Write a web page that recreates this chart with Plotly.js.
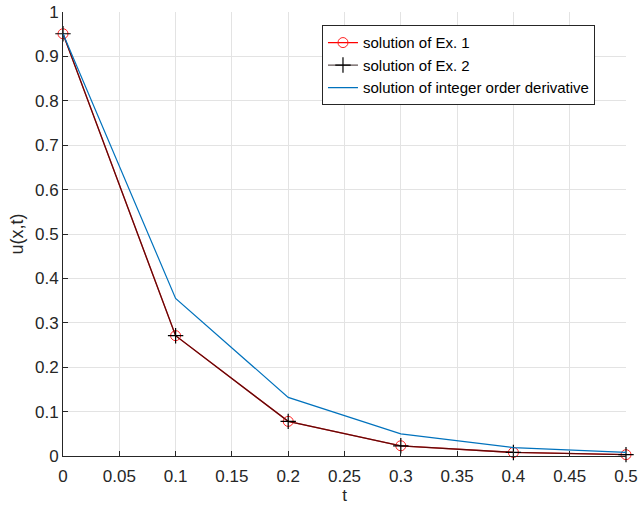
<!DOCTYPE html>
<html>
<head>
<meta charset="utf-8">
<script src="https://cdn.plot.ly/plotly-3.0.1.min.js"></script>
<style>html,body{margin:0;padding:0;background:#fff;}#chart{width:638px;height:511px;}</style>
</head>
<body>
<div id="chart"></div>
<script>
const t = [0, 0.1, 0.2, 0.3, 0.4, 0.5];
const ex1 = [0.951, 0.271, 0.078, 0.023, 0.008, 0.003];
const ex2 = [0.951, 0.271, 0.078, 0.023, 0.008, 0.003];
const integerOrder = [0.951, 0.355, 0.132, 0.050, 0.019, 0.008];
const names = ["solution of Ex. 1", "solution of Ex. 2", "solution of integer order derivative"];
const xTicks = [0, 0.05, 0.1, 0.15, 0.2, 0.25, 0.3, 0.35, 0.4, 0.45, 0.5];
const yTicks = [0, 0.1, 0.2, 0.3, 0.4, 0.5, 0.6, 0.7, 0.8, 0.9, 1];

const FONT = "Liberation Sans, Arial, sans-serif";

const traces = [
  {x: t, y: ex1, name: names[0], mode: "lines+markers", cliponaxis: false,
   line: {color: "#ff0000", width: 1.3},
   marker: {symbol: "circle-open", size: 10, color: "#ff2020", line: {width: 1}}},
  {x: t, y: ex2, name: names[1], mode: "lines+markers", cliponaxis: false,
   line: {color: "rgba(30,10,10,0.7)", width: 1.3},
   marker: {symbol: "cross-thin-open", size: 11, color: "#000000", line: {width: 1.2}}},
  {x: t, y: integerOrder, name: names[2], mode: "lines", cliponaxis: false,
   line: {color: "#0072BD", width: 1.2}}
];

const axisCommon = {
  showgrid: true, gridcolor: "#e3e3e3", gridwidth: 1, automargin: false,
  zeroline: false, showline: true, linecolor: "#262626", linewidth: 1,
  ticks: "inside", ticklen: 5, tickcolor: "#262626",
  tickfont: {family: FONT, size: 17, color: "#262626"}
};

const layout = {
  width: 638, height: 511,
  margin: {l: 63, r: 12, t: 12, b: 55},
  paper_bgcolor: "#ffffff", plot_bgcolor: "#ffffff",
  showlegend: true,
  xaxis: Object.assign({}, axisCommon, {
    range: [0, 0.5], tickvals: xTicks, ticktext: xTicks.map(String),
    ticklabelstandoff: 5,
    title: {text: "t", font: {family: FONT, size: 17, color: "#262626"}, standoff: 3}
  }),
  yaxis: Object.assign({}, axisCommon, {
    range: [0, 1], tickvals: yTicks, ticktext: yTicks.map(String),
    title: {text: "u(x,t)", font: {family: FONT, size: 18, color: "#262626"}, standoff: 6}
  }),
  legend: {
    x: 0.46, y: 0.97, xanchor: "left", yanchor: "top",
    bgcolor: "#ffffff", bordercolor: "#262626", borderwidth: 1,
    font: {family: FONT, size: 15, color: "#000000"},
    tracegroupgap: 0, itemwidth: 30
  }
};

Plotly.newPlot("chart", traces, layout, {displayModeBar: false, staticPlot: true});
</script>
</body>
</html>
